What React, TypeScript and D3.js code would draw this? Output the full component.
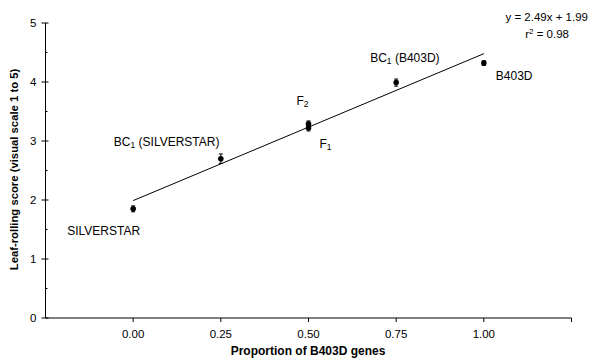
import React from "react";
import * as d3 from "d3";

// proportion of B403D genes, mean score, standard error
const groups = ["SILVERSTAR", "BC1 (SILVERSTAR)", "F2", "F1", "BC1 (B403D)", "B403D"];
const proportions = [0, 0.25, 0.5, 0.5, 0.75, 1];
const scores = [1.85, 2.7, 3.29, 3.22, 3.99, 4.32];
const errors = [0.05, 0.08, 0.05, 0.05, 0.06, 0.04];

const xTicks = [0, 0.25, 0.5, 0.75, 1];
const yTicks = [0, 1, 2, 3, 4, 5];
const yMinor = [0.5, 1.5, 2.5, 3.5, 4.5];

// regression: y = 2.49x + 1.99
const slope = 2.49;
const intercept = 1.99;

// label text split into main / subscript / rest
const labelParts: [string, string, string][] = [
  ["SILVERSTAR", "", ""],
  ["BC", "1", " (SILVERSTAR)"],
  ["F", "2", ""],
  ["F", "1", ""],
  ["BC", "1", " (B403D)"],
  ["B403D", "", ""],
];
const labelOffsets: [number, number][] = [
  [-66, 26],
  [-107, -13],
  [-12, -19],
  [11, 20],
  [-26, -21],
  [12, 17],
];

const font = "Liberation Sans, Arial, sans-serif";

export default function App() {
  const width = 589;
  const height = 360;
  const x = d3.scaleLinear().domain([-0.25, 1.25]).range([45.5, 571.5]);
  const y = d3.scaleLinear().domain([0, 5]).range([318, 23]);

  const line = d3.line<number>()
    .x((d) => x(d))
    .y((d) => y(slope * d + intercept));

  return (
    <svg width={width} height={height} style={{ position: "absolute", left: 0, top: 0, fontFamily: font }}>
      <rect width={width} height={height} fill="#fff" />
      {/* axes */}
      <line x1={x(-0.25)} x2={x(-0.25)} y1={y(0)} y2={y(5)} stroke="#000" strokeWidth={1} />
      <line x1={x(-0.25)} x2={x(1.25)} y1={y(0)} y2={y(0)} stroke="#000" strokeWidth={1} />
      {yTicks.map((t) => (
        <g key={"y" + t}>
          <line x1={x(-0.25) - 4} x2={x(-0.25) + 3} y1={y(t)} y2={y(t)} stroke="#000" />
          <text x={x(-0.25) - 9} y={y(t)} dy="0.35em" textAnchor="end" fontSize={11.5}>{t}</text>
        </g>
      ))}
      {yMinor.map((t) => (
        <line key={"m" + t} x1={x(-0.25)} x2={x(-0.25) + 2} y1={y(t)} y2={y(t)} stroke="#000" />
      ))}
      {xTicks.concat([1.25]).map((t) => (
        <line key={"x" + t} x1={x(t)} x2={x(t)} y1={y(0)} y2={y(0) + 4} stroke="#000" />
      ))}
      {xTicks.map((t) => (
        <text key={"xl" + t} x={x(t)} y={y(0) + 20} textAnchor="middle" fontSize={11.5}>{d3.format(".2f")(t)}</text>
      ))}
      {/* axis titles */}
      <text x={308} y={355} textAnchor="middle" fontSize={12} fontWeight="bold">Proportion of B403D genes</text>
      <text transform={`translate(18,${y(2.5) - 1}) rotate(-90)`} textAnchor="middle" fontSize={11.3} fontWeight="bold">
        Leaf-rolling score (visual scale 1 to 5)
      </text>
      {/* regression line */}
      <path d={line([0, 1]) || ""} fill="none" stroke="#000" strokeWidth={1} />
      {/* points with error bars */}
      {groups.map((g, i) => (
        <g key={g}>
          <line x1={x(proportions[i])} x2={x(proportions[i])} y1={y(scores[i] - errors[i])} y2={y(scores[i] + errors[i])} stroke="#000" />
          <line x1={x(proportions[i]) - 2} x2={x(proportions[i]) + 2} y1={y(scores[i] + errors[i])} y2={y(scores[i] + errors[i])} stroke="#000" />
          <line x1={x(proportions[i]) - 2} x2={x(proportions[i]) + 2} y1={y(scores[i] - errors[i])} y2={y(scores[i] - errors[i])} stroke="#000" />
          <circle cx={x(proportions[i])} cy={y(scores[i])} r={2.8} fill="#000" />
          <text x={x(proportions[i]) + labelOffsets[i][0]} y={y(scores[i]) + labelOffsets[i][1]} fontSize={12}>
            {labelParts[i][0]}
            {labelParts[i][1] && <tspan fontSize={8.5} dy={2}>{labelParts[i][1]}</tspan>}
            {labelParts[i][2] && <tspan dy={labelParts[i][1] ? -2 : 0}>{labelParts[i][2]}</tspan>}
          </text>
        </g>
      ))}
      {/* equation */}
      <text x={588} y={21} textAnchor="end" fontSize={11.5}>y = 2.49x + 1.99</text>
      <text x={569} y={38} textAnchor="end" fontSize={11.5}>
        r<tspan fontSize={8} dy={-4}>2</tspan><tspan dy={4}> = 0.98</tspan>
      </text>
    </svg>
  );
}
